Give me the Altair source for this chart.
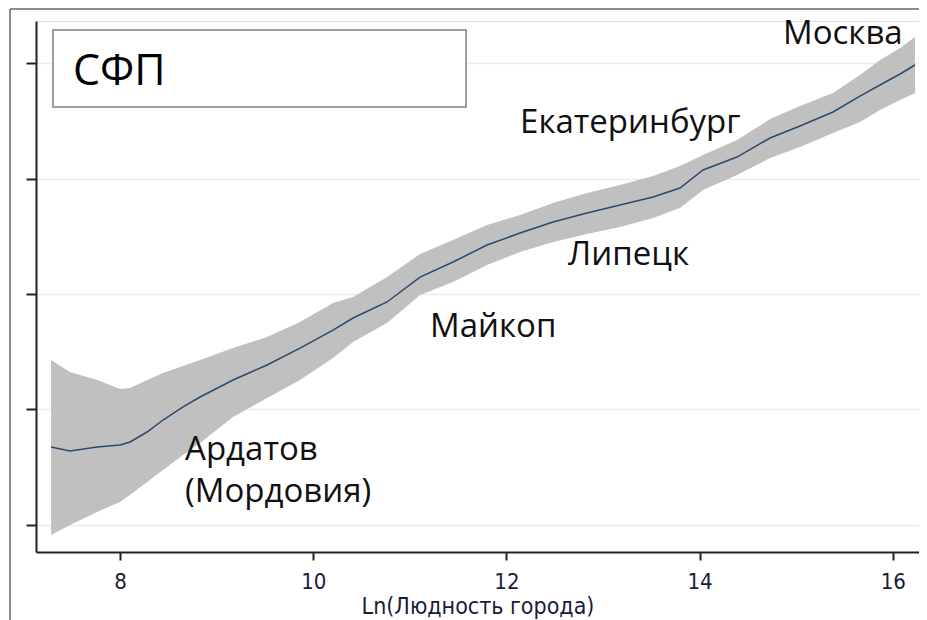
import altair as alt
import pandas as pd

# ---- data ----
x_vals = [7.286, 7.482, 7.762, 8.0, 8.104, 8.280, 8.445, 8.652, 8.828, 9.170, 9.522,
          9.863, 10.205, 10.412, 10.764, 11.106, 11.447, 11.799, 12.141, 12.482, 12.834,
          13.176, 13.518, 13.797, 14.035, 14.387, 14.729, 15.039, 15.381, 15.660, 15.867,
          16.075, 16.230]
fit = [0.675, 0.641, 0.675, 0.693, 0.719, 0.805, 0.909, 1.022, 1.108, 1.255, 1.385,
       1.532, 1.688, 1.792, 1.931, 2.147, 2.277, 2.424, 2.528, 2.623, 2.701,
       2.771, 2.840, 2.918, 3.074, 3.186, 3.351, 3.455, 3.576, 3.714, 3.810,
       3.905, 3.983]
upper = [1.429, 1.325, 1.255, 1.177, 1.186, 1.255, 1.316, 1.377, 1.429, 1.532, 1.628,
         1.758, 1.922, 1.974, 2.147, 2.346, 2.468, 2.597, 2.684, 2.788, 2.874,
         2.944, 3.022, 3.108, 3.203, 3.333, 3.515, 3.628, 3.740, 3.896, 4.026,
         4.130, 4.225]
lower = [-0.087, 0.000, 0.113, 0.200, 0.262, 0.372, 0.476, 0.606, 0.710, 0.935, 1.100,
         1.255, 1.446, 1.584, 1.749, 1.991, 2.104, 2.251, 2.364, 2.450, 2.519,
         2.580, 2.658, 2.745, 2.900, 3.030, 3.177, 3.273, 3.394, 3.489, 3.593,
         3.680, 3.740]

city_labels = ["Москва", "Екатеринбург", "Липецк", "Майкоп", "Ардатов", "(Мордовия)"]
city_x = [14.863, 12.141, 12.638, 11.209, 8.673, 8.673]
city_y = [4.165, 3.394, 2.251, 1.628, 0.563, 0.199]

panel_label = ["СФП"]
panel_x = [7.513]
panel_y = [3.810]
box_x = [7.306]
box_x2 = [11.582]
box_y = [4.286]
box_y2 = [3.619]

x_ticks = [8, 10, 12, 14, 16]
y_ticks = [0, 1, 2, 3, 4]
x_title = "Ln(Людность города)"

X_DOM = [7.130, 16.271]
Y_DOM = [-0.234, 4.364]
W, H = 883, 531

df = pd.DataFrame({"x": x_vals, "fit": fit, "lo": lower, "hi": upper})
lab = pd.DataFrame({"t": city_labels, "x": city_x, "y": city_y})
pan = pd.DataFrame({"t": panel_label, "x": panel_x, "y": panel_y,
                    "bx": box_x, "bx2": box_x2, "by": box_y, "by2": box_y2})

xs = alt.Scale(domain=X_DOM, nice=False, zero=False)
ys = alt.Scale(domain=Y_DOM, nice=False, zero=False)

narrow = "Liberation Sans Narrow, DejaVu Sans Condensed, Liberation Sans, sans-serif"

x_axis = alt.Axis(values=x_ticks, format="d", title=x_title, grid=False,
                  domainColor="#222222", domainWidth=2, tickColor="#222222",
                  tickWidth=2, tickSize=8,
                  labelFont=narrow, labelFontSize=22, labelColor="#1a1a3a",
                  labelBaseline="alphabetic", labelPadding=28,
                  titleFont=narrow, titleFontSize=23, titleFontWeight="normal",
                  titleColor="#1a1a3a", titleBaseline="alphabetic", titleY=61)
y_axis = alt.Axis(values=y_ticks, title=None, labels=False, grid=True,
                  gridColor="#e4eef0", gridWidth=1.5, domainColor="#222222",
                  domainWidth=2, tickColor="#222222", tickWidth=2, tickSize=10)

band = alt.Chart(df).mark_area(color="#c0c0c0", opacity=1).encode(
    x=alt.X("x:Q", scale=xs, axis=x_axis),
    y=alt.Y("lo:Q", scale=ys, axis=y_axis),
    y2="hi:Q",
)
line = alt.Chart(df).mark_line(color="#2a4a6c", strokeWidth=1.5).encode(
    x=alt.X("x:Q", scale=xs),
    y=alt.Y("fit:Q", scale=ys),
)
texts = alt.Chart(lab).mark_text(font="Open Sans", fontSize=33, align="left",
                                 baseline="alphabetic", color="#111111").encode(
    x=alt.X("x:Q", scale=xs),
    y=alt.Y("y:Q", scale=ys),
    text="t:N",
)
box = alt.Chart(pan).mark_rect(fill="white", stroke="#808080", strokeWidth=1.5).encode(
    x=alt.X("bx:Q", scale=xs), x2="bx2:Q",
    y=alt.Y("by:Q", scale=ys), y2="by2:Q",
)
ptext = alt.Chart(pan).mark_text(font="Open Sans", fontSize=43, align="left",
                                 baseline="alphabetic", color="#000000").encode(
    x=alt.X("x:Q", scale=xs),
    y=alt.Y("y:Q", scale=ys),
    text="t:N",
)

one = pd.DataFrame({"a": [0]})
frame_left = alt.Chart(one).mark_rule(color="#8c8c8c", strokeWidth=2).encode(
    x=alt.value(-26), y=alt.value(-12), y2=alt.value(H + 72))
frame_top = alt.Chart(one).mark_rule(color="#8c8c8c", strokeWidth=2).encode(
    x=alt.value(-26), x2=alt.value(W + 10), y=alt.value(-12))

chart = alt.layer(band, line, box, ptext, texts, frame_left, frame_top).properties(
    width=W, height=H,
    autosize=alt.AutoSizeParams(type="none"),
    padding={"left": 28, "top": 13, "right": 0, "bottom": 68},
).configure_view(stroke=None).configure(background="white")

chart.save("out.html", embed_options={"renderer": "svg", "actions": False})
